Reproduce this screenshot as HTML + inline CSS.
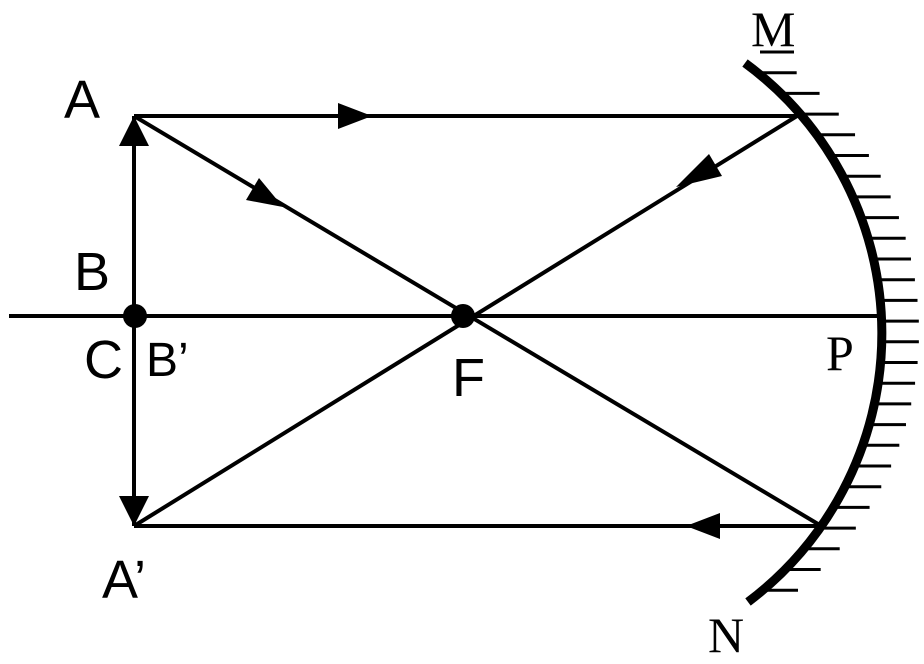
<!DOCTYPE html>
<html><head><meta charset="utf-8"><style>
html,body{margin:0;padding:0;background:#fff;}
svg{display:block}
.s{font-family:"Liberation Sans",sans-serif;font-size:54px;fill:#000}
.r{font-family:"Liberation Serif",serif;font-size:50px;fill:#000}
</style></head><body>
<svg id="sv" width="924" height="664" viewBox="0 0 924 664" xmlns="http://www.w3.org/2000/svg">
<g stroke="#000" stroke-width="4" fill="none">
<line x1="9" y1="316" x2="882" y2="316"/>
<line x1="134" y1="116" x2="134" y2="526"/>
<line x1="134" y1="116" x2="797" y2="116"/>
<line x1="134" y1="526" x2="818" y2="526"/>
<line x1="134" y1="116" x2="818" y2="524"/>
<line x1="797" y1="116" x2="134" y2="526"/>
<path d="M745,63 A336,336 0 0 1 748,602" stroke-width="9"/>
</g>
<g id="h" stroke="#000" stroke-width="3"></g>
<g fill="#000">
<circle cx="463" cy="316" r="12"/>
<circle cx="135" cy="316" r="12"/>
<polygon points="134,116 119,146 149,146"/>
<polygon points="134,526 119,496 149,496"/>
<polygon points="372,116 338,103 338,129"/>
<polygon points="283,207 246,200 259,178"/>
<polygon points="676,187 709,154 722,176"/>
<polygon points="686,526 720,513 720,539"/>
</g>
<text class="s" x="64" y="118">A</text>
<text class="s" x="74" y="290">B</text>
<text class="s" x="84" y="378">C</text>
<text class="s" x="146" y="376" style="font-size:48px">B’</text>
<text class="s" x="452" y="396">F</text>
<text class="s" x="102" y="598">A’</text>
<text class="r" x="751" y="46">M</text>
<text class="r" x="826" y="370">P</text>
<text class="r" x="708" y="652">N</text>
</svg>
<script>
var g=document.getElementById('h'),s='';
for(var y=52;y<=610;y+=20.7){var d=y-332;var x=546+Math.sqrt(Math.max(0,336*336-d*d));
if(y<70)x=Math.max(x,757);
s+='<line x1="'+(x+3)+'" y1="'+y+'" x2="'+(x+37)+'" y2="'+y+'"/>';}
g.innerHTML=s;
</script>
</body></html>
